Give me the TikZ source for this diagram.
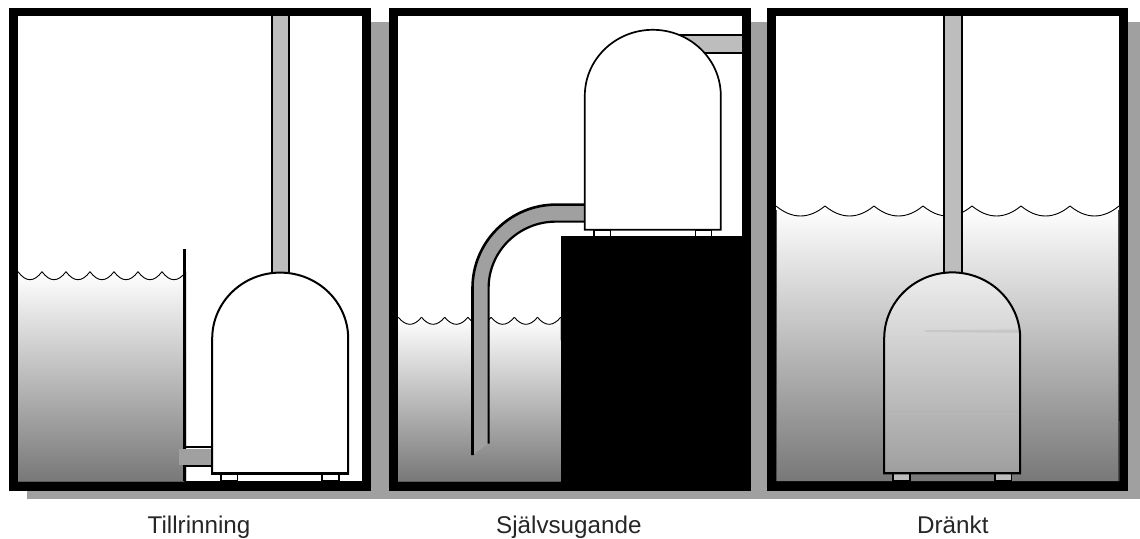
\documentclass[tikz,border=0pt]{standalone}
\usepackage{fontspec}
\setmainfont{Liberation Sans}
\definecolor{shadowgray}{HTML}{A0A0A0}
\definecolor{pipegray}{HTML}{BDBDBD}
\definecolor{watergray}{HTML}{787878}
\tikzset{
  shadowbox/.style={fill=shadowgray,draw=none},
  framebox/.style={fill=black,draw=none},
  framein/.style={fill=white,draw=none},
  water/.style={top color=white,bottom color=watergray,draw=none},
  waveline/.style={draw=black,line width=0.9pt,fill=none},
  pumpbody/.style={draw=black,line width=2pt,line join=miter},
  pumpbase/.style={draw=black,line width=2.8pt},
  footbox/.style={draw=black,line width=1.6pt},
  pipewall/.style={draw=black,line width=2pt},
  capt/.style={font=\fontsize{24.2}{28}\selectfont,text=black!85,inner sep=0pt,anchor=base west},
}
% scalloped water surface: #1 start x, #2 period, #3 count, #4 crest y, #5 depth
\newcommand{\scallops}[5]{%
  \foreach \k in {1,...,#3}{%
    \pgfmathsetmacro{\xa}{#1+(\k-1)*#2}%
    \pgfmathsetmacro{\xb}{\xa+#2/3}%
    \pgfmathsetmacro{\xc}{\xa+2*#2/3}%
    \pgfmathsetmacro{\xd}{\xa+#2}%
    \pgfmathsetmacro{\yy}{#4+#5*4/3}%
    \draw[waveline] (\xa,#4) .. controls (\xb,\yy) and (\xc,\yy) .. (\xd,#4);
  }%
}
\newcommand{\pumpoutline}{(0,66) .. controls (0,29.5) and (30.5,0) .. (68,0) .. controls (105.5,0) and (136,29.5) .. (136,66) -- (136,201) -- (0,201) -- cycle}
\begin{document}
\begin{tikzpicture}[x=1pt,y=-1pt]
\useasboundingbox (0,0) rectangle (1140,538);
\fill[white] (0,0) rectangle (1140,538);
\fill[shadowbox] (27,22) rectangle (1140,499);

% ---- panel 1
\fill[framebox] (9,8) rectangle (371,490.6);
\fill[framein] (18,16) rectangle (362,481);
\fill[water] (18,272)
  \foreach \k in {0,...,6}{ .. controls ({18+\k*24+8},282.6) and ({18+\k*24+16},282.6) .. ({18+(\k+1)*24},272) }
  -- (186,481) -- (18,481) -- cycle;
\scallops{18}{24}{7}{271.7}{8}
\draw[line width=0.6pt,draw=black!65] (18,481) -- (184,481);
% wall
\fill[black] (183,249) rectangle (186.3,481);
% inlet pipe
\draw[line width=2pt] (186,446.7) -- (212,446.7);
\draw[line width=2pt] (186,466) -- (212,466);
\fill[shadowgray] (179,449) rectangle (212,465);
% riser
\fill[pipegray] (271,16) rectangle (290,273);
\draw[pipewall] (271.7,16) -- (271.7,273);
\draw[pipewall] (289.3,16) -- (289.3,273);
% feet
\draw[footbox,fill=white] (221,474) rectangle (237.5,481);
\draw[footbox,fill=white] (322,474) rectangle (339,481);
% pump
\begin{scope}[shift={(212.2,272.6)}]
  \draw[pumpbody,fill=white] \pumpoutline;
  \draw[pumpbase] (-0.9,200.6) -- (136.9,200.6);
\end{scope}

% ---- panel 2
\fill[framebox] (389.3,8) rectangle (751,490.6);
\fill[framein] (398.3,16) rectangle (742,481);
\fill[water] (398.3,317.3)
  \foreach \k in {0,...,6}{ .. controls ({398.3+\k*23.2+7.7},326.6) and ({398.3+\k*23.2+15.5},326.6) .. ({398.3+(\k+1)*23.2},317.3) }
  -- (561,481) -- (398.3,481) -- cycle;
\scallops{398.3}{23.2}{7}{317.3}{7}
\draw[line width=0.6pt,draw=black!65] (398.3,481) -- (561,481);
% base block
\fill[black] (561,236.3) rectangle (742,482);
% suction pipe
\fill[shadowgray] (584,204.8) -- (556,204.8)
  .. controls (510,204.8) and (472.5,242) .. (472.5,288)
  -- (472.5,455) -- (488.6,443.3) -- (488.6,288)
  .. controls (488.6,251) and (519,221) .. (556,221) -- (584,221) -- cycle;
\draw[line width=2.6pt] (585,204.6) -- (556,204.6)
  .. controls (510,204.6) and (472.5,242) .. (472.5,288) -- (472.5,455);
\draw[line width=2.2pt] (585,221.6) -- (556,221.6)
  .. controls (519,221.6) and (488.6,251) .. (488.6,288) -- (488.6,443.5);
% discharge pipe
\fill[pipegray] (640,34.5) rectangle (742,52.5);
\draw[pipewall] (640,34.5) -- (742,34.5);
\draw[pipewall] (640,52.5) -- (742,52.5);
% feet
\draw[footbox,fill=white] (593.7,230) rectangle (610.3,237);
\draw[footbox,fill=white] (695.5,230) rectangle (711.3,237);
% pump
\begin{scope}[shift={(584.8,29.8)}]
  \draw[pumpbody,fill=white,line width=1.7pt] (0,66) .. controls (0,29.5) and (30.5,0) .. (68,0) .. controls (105.5,0) and (136,29.5) .. (136,66) -- (136,200) -- (0,200) -- cycle;
\end{scope}

% ---- panel 3
\fill[framebox] (767,8) rectangle (1128.3,490.6);
\fill[framein] (776,16) rectangle (1119.3,481);
\fill[water] (776,206)
  \foreach \k in {0,...,6}{ .. controls ({776+\k*49+16.3},219.3) and ({776+\k*49+32.7},219.3) .. ({776+(\k+1)*49},206) }
  -- (1119.3,481) -- (776,481) -- cycle;
\scallops{776}{49}{7}{206}{10}
\draw[line width=0.7pt,draw=black!70] (776.3,210) -- (776.3,481);
\draw[line width=0.7pt,draw=black!70] (1118.8,210) -- (1118.8,481);
% riser
\fill[pipegray] (943,16) rectangle (962.5,273);
\draw[pipewall] (943.8,16) -- (943.8,273);
\draw[pipewall] (961.8,16) -- (961.8,273);
% feet
\draw[footbox,fill=pipegray] (893,473.5) rectangle (910,481);
\draw[footbox,fill=pipegray] (995,473.5) rectangle (1011.5,481);
% pump
\begin{scope}[shift={(884.2,272.4)}]
  \shade[top color=black!7,bottom color=black!38] \pumpoutline;
  \fill[black!22] (40,57.8) -- (135.5,57.2) -- (135.5,60.6) -- (42,59.6) -- cycle;
  \draw[line width=0.5pt,black!30] (1,138.6) -- (135.5,138.6);
  \draw[pumpbody] \pumpoutline;
  \draw[line width=2.4pt] (-0.9,200.6) -- (136.9,200.6);
\end{scope}

% ---- captions
\node[capt] (capA) at (147.5,533) {Tillrinning};
\node[capt] (capB) at (496,533) {Självsugande};
\node[capt] (capC) at (917,533) {Dränkt};
\end{tikzpicture}
\end{document}
